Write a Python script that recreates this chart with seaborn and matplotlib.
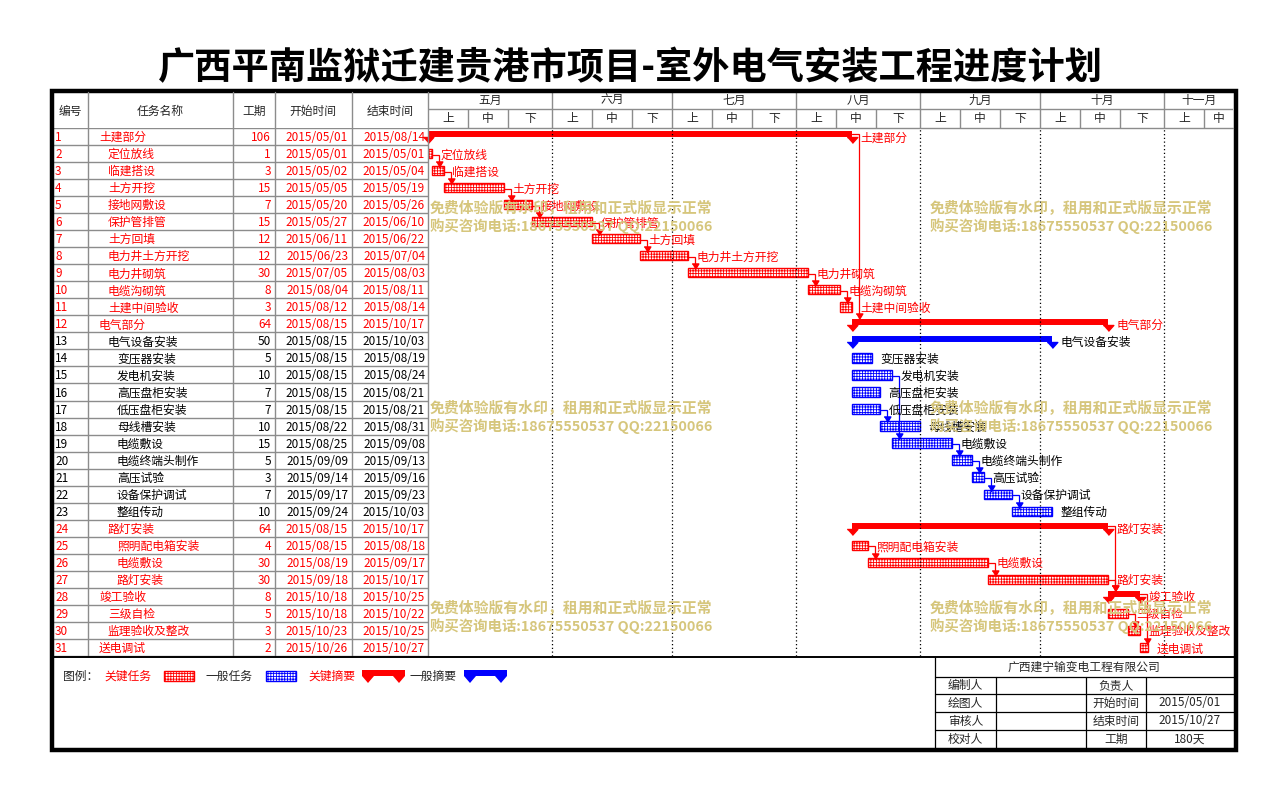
import numpy as np
import pandas as pd
import matplotlib
matplotlib.use("Agg")
import matplotlib.pyplot as plt
import seaborn as sns
from matplotlib.patches import Rectangle, Polygon

sns.set_theme(style="white")
plt.rcParams["font.family"] = ["Noto Sans CJK SC", "DejaVu Sans"]
plt.rcParams["hatch.linewidth"] = 0.6
plt.rcParams["axes.unicode_minus"] = False

# ---------------- data ----------------
title = "广西平南监狱迁建贵港市项目-室外电气安装工程进度计划"
task_ids = list(range(1, 32))
task_names = ["土建部分", "定位放线", "临建搭设", "土方开挖", "接地网敷设", "保护管排管", "土方回填",
              "电力井土方开挖", "电力井砌筑", "电缆沟砌筑", "土建中间验收", "电气部分", "电气设备安装",
              "变压器安装", "发电机安装", "高压盘柜安装", "低压盘柜安装", "母线槽安装", "电缆敷设",
              "电缆终端头制作", "高压试验", "设备保护调试", "整组传动", "路灯安装", "照明配电箱安装",
              "电缆敷设", "路灯安装", "竣工验收", "三级自检", "监理验收及整改", "送电调试"]
durations = [106, 1, 3, 15, 7, 15, 12, 12, 30, 8, 3, 64, 50, 5, 10, 7, 7, 10, 15, 5, 3, 7, 10,
             64, 4, 30, 30, 8, 5, 3, 2]
start_dates = ["2015/05/01", "2015/05/01", "2015/05/02", "2015/05/05", "2015/05/20", "2015/05/27",
               "2015/06/11", "2015/06/23", "2015/07/05", "2015/08/04", "2015/08/12", "2015/08/15",
               "2015/08/15", "2015/08/15", "2015/08/15", "2015/08/15", "2015/08/15", "2015/08/22",
               "2015/08/25", "2015/09/09", "2015/09/14", "2015/09/17", "2015/09/24", "2015/08/15",
               "2015/08/15", "2015/08/19", "2015/09/18", "2015/10/18", "2015/10/18", "2015/10/23",
               "2015/10/26"]
end_dates = ["2015/08/14", "2015/05/01", "2015/05/04", "2015/05/19", "2015/05/26", "2015/06/10",
             "2015/06/22", "2015/07/04", "2015/08/03", "2015/08/11", "2015/08/14", "2015/10/17",
             "2015/10/03", "2015/08/19", "2015/08/24", "2015/08/21", "2015/08/21", "2015/08/31",
             "2015/09/08", "2015/09/13", "2015/09/16", "2015/09/23", "2015/10/03", "2015/10/17",
             "2015/08/18", "2015/09/17", "2015/10/17", "2015/10/25", "2015/10/22", "2015/10/25",
             "2015/10/27"]
levels = [1, 2, 2, 2, 2, 2, 2, 2, 2, 2, 2, 1, 2, 3, 3, 3, 3, 3, 3, 3, 3, 3, 3, 2, 3, 3, 3, 1, 2, 2, 1]
is_critical = [True] * 12 + [False] * 11 + [True] * 8
summary_ids = [1, 12, 13, 24, 28]
links = [(2, 3), (3, 4), (4, 5), (5, 6), (6, 7), (7, 8), (8, 9), (9, 10), (10, 11), (1, 12),
         (17, 18), (15, 19), (19, 20), (20, 21), (21, 22), (22, 23),
         (25, 26), (26, 27), (24, 28), (27, 28), (29, 30), (28, 31)]
month_names = ["五月", "六月", "七月", "八月", "九月", "十月", "十一月"]
dekad_names = ["上", "中", "下"]
table_headers = ["编号", "任务名称", "工期", "开始时间", "结束时间"]
legend_labels = ["图例：", "关键任务", "一般任务", "关键摘要", "一般摘要"]
company = "广西建宁输变电工程有限公司"
info_rows = [["编制人", "", "负责人", ""],
             ["绘图人", "", "开始时间", "2015/05/01"],
             ["审核人", "", "结束时间", "2015/10/27"],
             ["校对人", "", "工期", "180天"]]
watermark = ["免费体验版有水印，租用和正式版显示正常", "购买咨询电话:18675550537 QQ:22150066"]

# ---------------- derived ----------------
origin = pd.Timestamp("2015-05-01")
s_day = (pd.to_datetime(start_dates, format="%Y/%m/%d") - origin).days.values
e_day = (pd.to_datetime(end_dates, format="%Y/%m/%d") - origin).days.values + 1
df = pd.DataFrame({"row": task_ids, "name": task_names, "start": s_day, "end": e_day,
                   "dur": e_day - s_day, "crit": is_critical,
                   "summ": [i in summary_ids for i in task_ids]})
month_starts = pd.date_range("2015-05-01", periods=len(month_names) + 1, freq="MS")
month_days = (month_starts - origin).days.values

RED, BLUE, GRAY = "#ff0000", "#0000ff", "#8c8c8c"
WM = "#d6c67c"
HATCH = "++++++"
W, H = 1284, 800
GX0, GX1, TOP, BOT = 428, 1233, 128, 656
PPD = 4.0
XMAX = (GX1 - GX0) / PPD
n = len(task_ids)
FS = 8.5

fig = plt.figure(figsize=(W / 100, H / 100), dpi=100)


def px_axes(x0, y0, x1, y1, **kw):
    a = fig.add_axes([x0 / W, 1 - y1 / H, (x1 - x0) / W, (y1 - y0) / H], **kw)
    a.axis("off")
    return a


TRI = [(-0.9, 0.0), (0.9, 0.0), (0.0, -1.0)]
ARROW = [(-0.6, 1.0), (0.6, 1.0), (0.0, 0.0)]

# ---------------- gantt ----------------
ax = px_axes(GX0, TOP, GX1, BOT)
tasks = df[~df.summ]
for crit, col in [(True, RED), (False, BLUE)]:
    sub = tasks[tasks.crit == crit].sort_values("row")
    sns.barplot(data=sub, x="dur", y="row", orient="y", native_scale=True, errorbar=None,
                width=0.55, color=col, saturation=1, left=sub["start"].values,
                facecolor="white", edgecolor=col, hatch=HATCH, linewidth=1.0, ax=ax)

for _, r in df[df.summ].iterrows():
    col = RED if r.crit else BLUE
    ax.hlines(r.row - 0.12, r.start, r.end, color=col, lw=4.3)
    ax.plot([r.start, r.end], [r.row + 0.04] * 2, ls="none", marker=TRI, ms=8.5,
            color=col, clip_on=False)

for p, s in links:
    rp, rs = df.loc[p - 1], df.loc[s - 1]
    col = RED if rp.crit else BLUE
    y0 = rp.row - 0.12 if rp.summ else rp.row + 0.06
    xa = rs.start + 1.8
    y1 = rs.row - 0.30 if rs.summ else rs.row - 0.215
    ax.plot([rp.end, xa, xa], [y0, y0, y1], color=col, lw=0.9, solid_joinstyle="miter")
    ax.plot([xa], [y1], marker=ARROW, ms=8, color=col, ls="none")

for _, r in df.iterrows():
    col = RED if r.crit else "black"
    ax.text(r.end + 2.1, r.row + 0.08, r["name"], color=col, fontsize=FS, va="center",
            ha="left", clip_on=False)

for d in month_days[1:]:
    if d < XMAX:
        ax.axvline(d, color="black", lw=0.9, ls=(0, (1, 2)))
ax.set_xlim(0, XMAX)
ax.set_ylim(n + 0.5, 0.5)
ax.axis("off")

# ---------------- table ----------------
tb = px_axes(52, TOP, GX0, BOT)
tb.set_xlim(52, GX0)
tb.set_ylim(n + 0.5, 0.5)
for i in range(n + 1):
    tb.axhline(i + 0.5, color=GRAY, lw=1)
name_x = {1: 99, 2: 108, 3: 117}
for _, r in df.iterrows():
    col = RED if r.crit else "black"
    y = r.row + 0.06
    kw = dict(color=col, fontsize=FS, va="center")
    tb.text(55, y, str(r.row), ha="left", **kw)
    tb.text(name_x[levels[r.row - 1]], y, r["name"], ha="left", **kw)
    tb.text(271, y, str(durations[r.row - 1]), ha="right", **kw)
    tb.text(348, y, start_dates[r.row - 1], ha="right", **kw)
    tb.text(425, y, end_dates[r.row - 1], ha="right", **kw)

# ---------------- timeline header ----------------
hd = px_axes(GX0, 92, GX1, TOP)
hd.set_xlim(0, XMAX)
hd.set_ylim(TOP, 92)
hd.axhline(109, color=GRAY, lw=1)
for k, m in enumerate(month_names):
    d0, d1 = month_days[k], month_days[k + 1]
    if d0 >= XMAX:
        break
    hd.text((d0 + min(d1, XMAX)) / 2, 100.5, m, ha="center", va="center", fontsize=FS)
    bounds = [d0, d0 + 10, d0 + 20, d1]
    for j, dk in enumerate(dekad_names):
        a, b = bounds[j], min(bounds[j + 1], XMAX)
        if a >= XMAX:
            break
        hd.text((a + b) / 2, 118.5, dk, ha="center", va="center", fontsize=FS)
        if j > 0:
            hd.vlines(a, 109, TOP, color=GRAY, lw=1)
    if k > 0:
        hd.vlines(d0, 92, TOP, color=GRAY, lw=1)

# ---------------- layout overlay ----------------
lay = fig.add_axes([0, 0, 1, 1], zorder=10)
lay.axis("off")
lay.set_xlim(0, W)
lay.set_ylim(H, 0)

lay.text(630, 69, title, ha="center", va="center", fontsize=26.8, fontweight="bold", color="black")

for x in [88, 233, 275, 352, 428]:
    lay.plot([x, x], [92, BOT], color=GRAY, lw=1)
lay.plot([GX0, GX1], [TOP, TOP], color=GRAY, lw=1)
for x, t in zip([70, 160, 254, 313, 390], table_headers):
    lay.text(x, 111, t, ha="center", va="center", fontsize=FS)

lay.plot([52, 1234], [657, 657], color="black", lw=1.4)
lay.add_patch(Rectangle((51.5, 90.5), 1235.5 - 51.5, 750 - 90.5, fill=False,
                        ec="black", lw=3.2))

# legend
lay.text(63, 676, legend_labels[0], ha="left", va="center", fontsize=FS)
lay.text(104, 676, legend_labels[1], ha="left", va="center", fontsize=FS, color=RED)
lay.add_patch(Rectangle((164, 671), 30, 10, facecolor="white", edgecolor=RED, hatch=HATCH, lw=1))
lay.text(206, 676, legend_labels[2], ha="left", va="center", fontsize=FS)
lay.add_patch(Rectangle((266, 671), 30, 10, facecolor="white", edgecolor=BLUE, hatch=HATCH, lw=1))
lay.text(308, 676, legend_labels[3], ha="left", va="center", fontsize=FS, color=RED)
for x0, col in [(362, RED), (464, BLUE)]:
    pts = [(x0, 670), (x0 + 43, 670), (x0 + 43, 676), (x0 + 37, 683), (x0 + 31, 676),
           (x0 + 12, 676), (x0 + 6, 683), (x0, 676)]
    lay.add_patch(Polygon(pts, closed=True, color=col, lw=0))
lay.text(410, 676, legend_labels[4], ha="left", va="center", fontsize=FS)

# company table
lay.plot([935, 935], [657, 749], color="black", lw=0.9)
for y in [677, 694, 712, 730]:
    lay.plot([935, 1234], [y, y], color="black", lw=0.9)
for x in [996, 1086, 1146]:
    lay.plot([x, x], [677, 749], color="black", lw=0.9)
lay.text(1084, 667, company, ha="center", va="center", fontsize=FS)
col_cx = [965.5, 1041, 1116, 1189.5]
row_cy = [685.5, 703, 721, 739]
for rr, cells in enumerate(info_rows):
    for cc, t in enumerate(cells):
        if t:
            lay.text(col_cx[cc], row_cy[rr], t, ha="center", va="center", fontsize=FS)

# watermark
for yy in [208, 408, 608]:
    for xx in [430, 930]:
        lay.text(xx, yy, watermark[0], ha="left", va="center", fontsize=10.7,
                 fontweight="bold", color=WM)
        lay.text(xx, yy + 18, watermark[1], ha="left", va="center", fontsize=10.4,
                 fontweight="bold", color=WM)

fig.savefig("out.png", dpi=100)
